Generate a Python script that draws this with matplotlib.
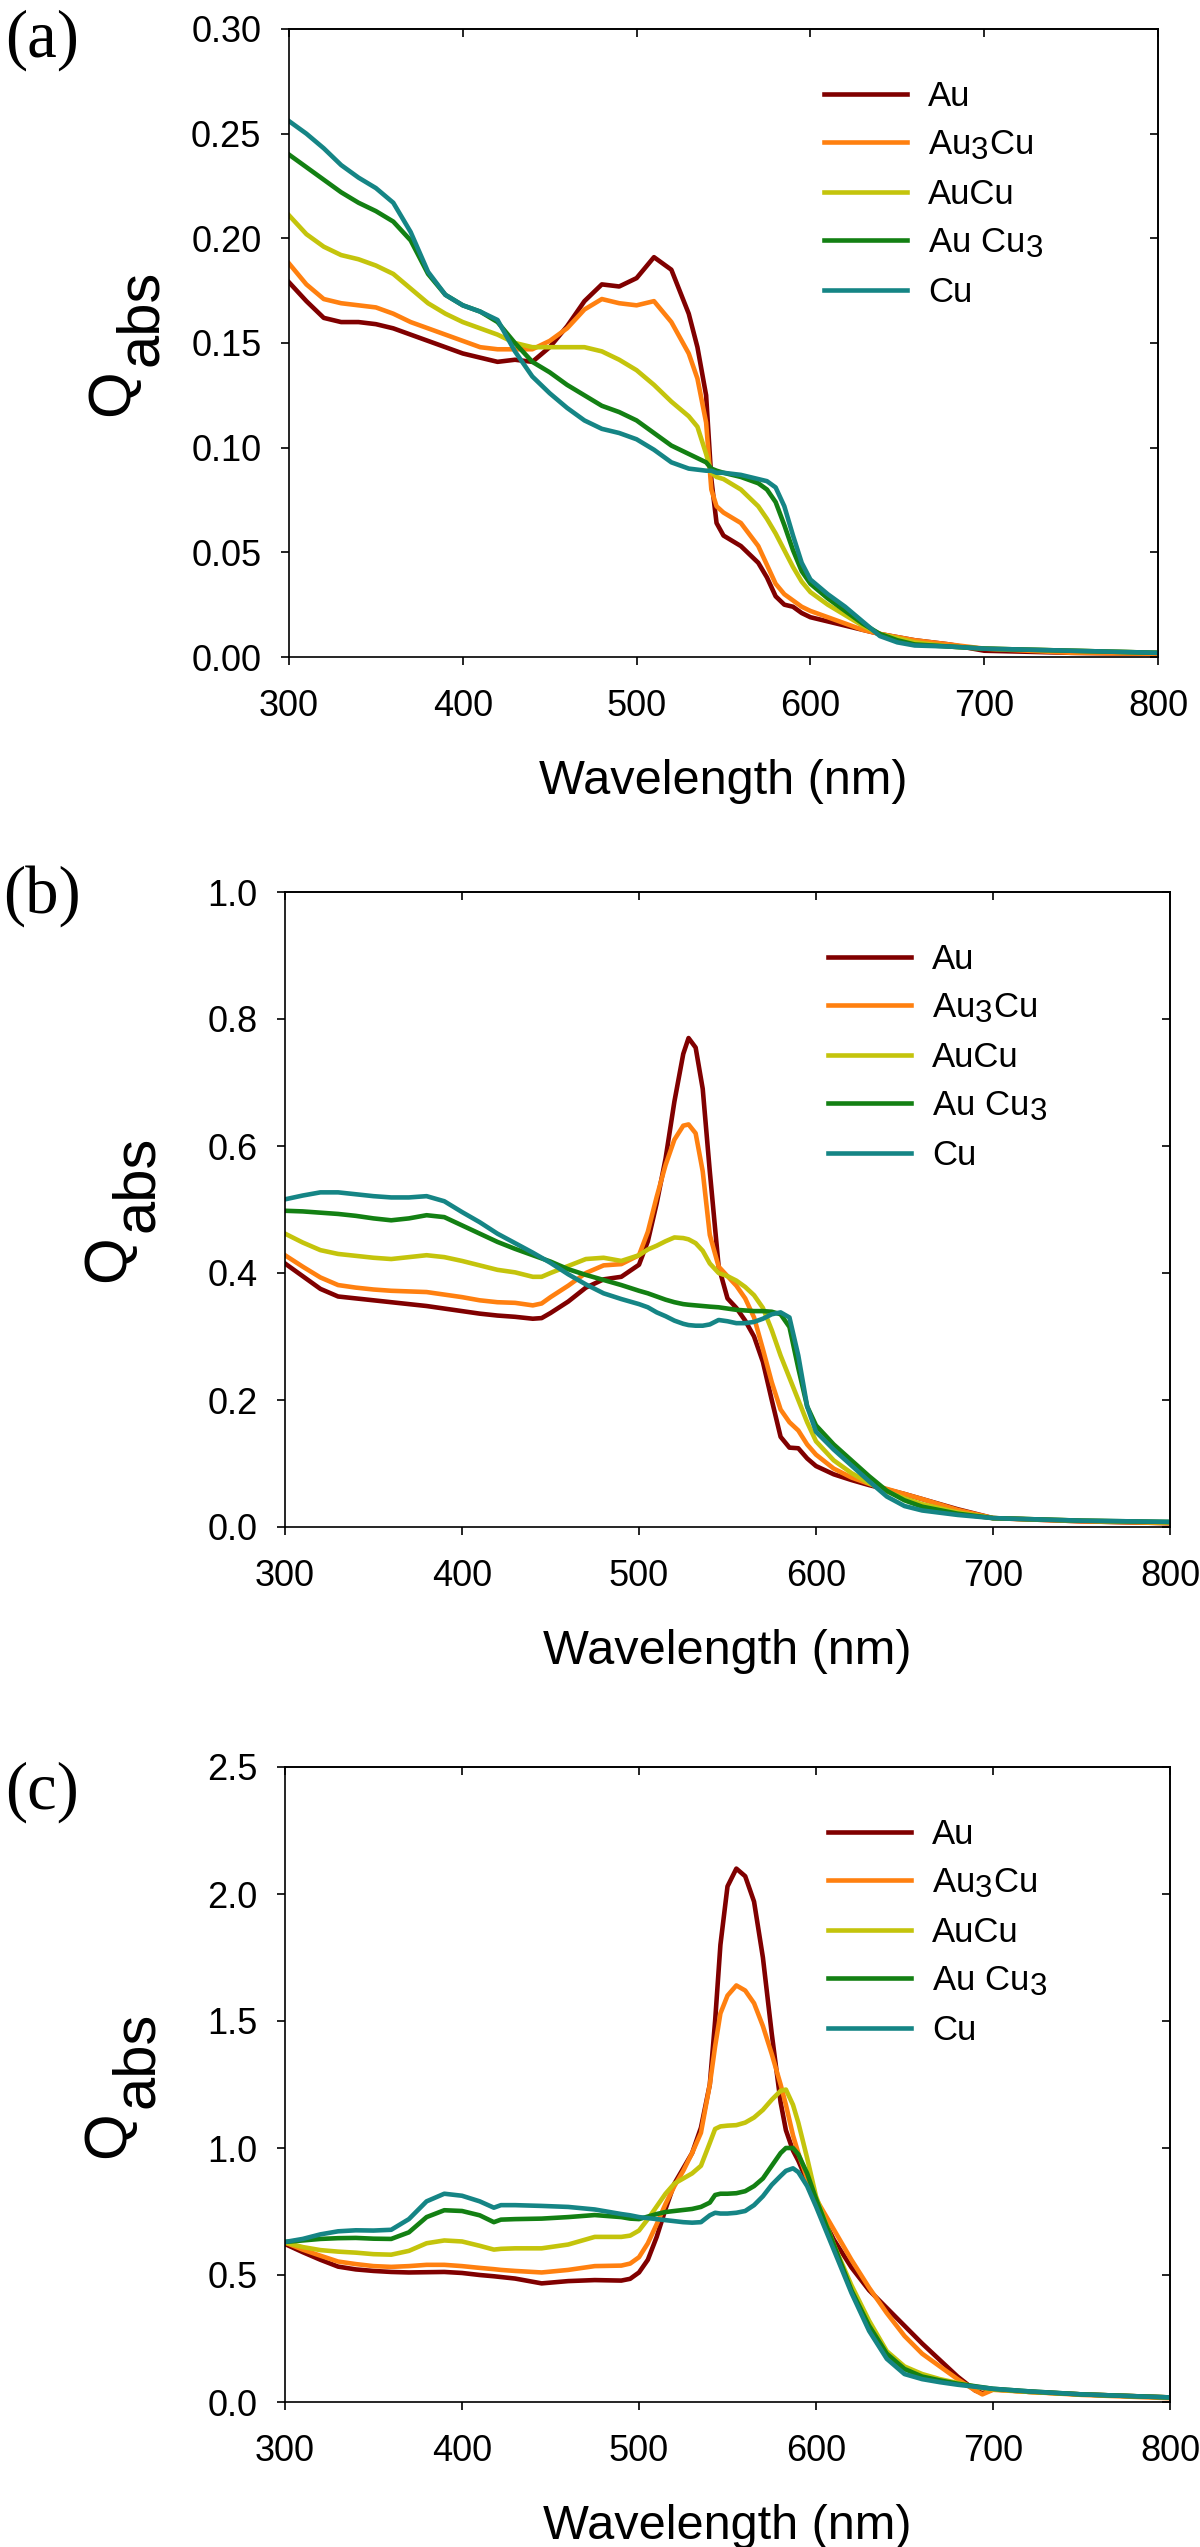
import matplotlib
matplotlib.use("Agg")
import matplotlib.pyplot as plt
import matplotlib._mathtext as _mt

_mt.SHRINK_FACTOR = 0.9

plt.rcParams['font.family'] = ['Liberation Sans', 'DejaVu Sans']
plt.rcParams['mathtext.fontset'] = 'custom'
plt.rcParams['mathtext.rm'] = 'Liberation Sans'
plt.rcParams['mathtext.it'] = 'Liberation Sans'
plt.rcParams['mathtext.default'] = 'regular'

# ---------------- data ----------------
series_names = ['Au', r'Au$_3$Cu', 'AuCu', r'Au Cu$_3$', 'Cu']
series_colors = ['#800000', '#FF8010', '#C4C40C', '#138013', '#158585']
panel_letters = ['(a)', '(b)', '(c)']

wl_a = [300, 310, 320, 330, 340, 350, 360, 370, 380, 390, 400, 410, 420, 430, 440, 450,
        460, 470, 480, 490, 500, 510, 520, 530, 535, 540, 543, 546, 550, 560, 570, 575,
        580, 585, 590, 595, 600, 610, 620, 630, 640, 650, 660, 680, 700, 750, 800]
au_a = [0.179, 0.170, 0.162, 0.160, 0.160, 0.159, 0.157, 0.154, 0.151, 0.148, 0.145, 0.143,
        0.141, 0.142, 0.141, 0.148, 0.158, 0.170, 0.178, 0.177, 0.181, 0.191, 0.185, 0.164,
        0.148, 0.125, 0.085, 0.064, 0.058, 0.053, 0.045, 0.038, 0.029, 0.025, 0.024, 0.021,
        0.019, 0.017, 0.015, 0.013, 0.011, 0.0095, 0.008, 0.006, 0.003, 0.002, 0.0015]
au3cu_a = [0.188, 0.178, 0.171, 0.169, 0.168, 0.167, 0.164, 0.160, 0.157, 0.154, 0.151, 0.148,
           0.147, 0.147, 0.147, 0.151, 0.157, 0.166, 0.171, 0.169, 0.168, 0.170, 0.160, 0.145,
           0.133, 0.112, 0.080, 0.072, 0.069, 0.064, 0.053, 0.044, 0.035, 0.030, 0.027, 0.024,
           0.022, 0.019, 0.016, 0.013, 0.011, 0.0095, 0.008, 0.006, 0.004, 0.002, 0.0015]
aucu_a = [0.211, 0.202, 0.196, 0.192, 0.190, 0.187, 0.183, 0.176, 0.169, 0.164, 0.160, 0.157,
          0.154, 0.150, 0.148, 0.148, 0.148, 0.148, 0.146, 0.142, 0.137, 0.130, 0.122, 0.115,
          0.110, 0.097, 0.088, 0.086, 0.085, 0.080, 0.072, 0.066, 0.059, 0.051, 0.043, 0.036,
          0.031, 0.025, 0.020, 0.015, 0.011, 0.009, 0.007, 0.005, 0.004, 0.003, 0.002]
aucu3_a = [0.240, 0.234, 0.228, 0.222, 0.217, 0.213, 0.208, 0.199, 0.183, 0.173, 0.168, 0.165,
           0.160, 0.150, 0.141, 0.136, 0.130, 0.125, 0.120, 0.117, 0.113, 0.107, 0.101, 0.097,
           0.095, 0.093, 0.090, 0.089, 0.088, 0.086, 0.083, 0.080, 0.074, 0.063, 0.051, 0.041,
           0.035, 0.028, 0.022, 0.016, 0.011, 0.008, 0.006, 0.005, 0.004, 0.003, 0.002]
cu_a = [0.256, 0.250, 0.243, 0.235, 0.229, 0.224, 0.217, 0.203, 0.184, 0.173, 0.168, 0.165,
        0.161, 0.146, 0.134, 0.126, 0.119, 0.113, 0.109, 0.107, 0.104, 0.099, 0.093, 0.090,
        0.0895, 0.089, 0.089, 0.088, 0.088, 0.087, 0.085, 0.084, 0.081, 0.072, 0.058, 0.045,
        0.037, 0.030, 0.024, 0.017, 0.010, 0.007, 0.0055, 0.005, 0.004, 0.003, 0.002]

wl_b = [300, 310, 320, 330, 340, 350, 360, 370, 380, 390, 400, 410, 420, 430, 440, 445, 450,
        460, 470, 480, 490, 500, 505, 510, 515, 520, 525, 528, 532, 536, 540, 545, 550, 555,
        560, 565, 570, 575, 580, 585, 590, 595, 600, 610, 620, 630, 640, 650, 660, 680, 700,
        750, 800]
au_b = [0.415, 0.395, 0.375, 0.363, 0.360, 0.357, 0.354, 0.351, 0.348, 0.344, 0.340, 0.336,
        0.333, 0.331, 0.328, 0.329, 0.337, 0.355, 0.377, 0.390, 0.394, 0.413, 0.450, 0.510,
        0.580, 0.670, 0.745, 0.770, 0.755, 0.690, 0.560, 0.410, 0.360, 0.345, 0.325, 0.300,
        0.260, 0.200, 0.142, 0.125, 0.124, 0.108, 0.096, 0.083, 0.074, 0.066, 0.059, 0.052,
        0.044, 0.028, 0.014, 0.009, 0.006]
au3cu_b = [0.428, 0.410, 0.393, 0.381, 0.377, 0.374, 0.372, 0.371, 0.370, 0.366, 0.362, 0.357,
           0.354, 0.353, 0.349, 0.352, 0.362, 0.380, 0.400, 0.412, 0.414, 0.428, 0.465, 0.520,
           0.570, 0.610, 0.632, 0.634, 0.620, 0.560, 0.460, 0.410, 0.395, 0.380, 0.360, 0.330,
           0.280, 0.228, 0.185, 0.165, 0.152, 0.130, 0.114, 0.092, 0.078, 0.068, 0.060, 0.052,
           0.044, 0.027, 0.014, 0.009, 0.006]
aucu_b = [0.462, 0.448, 0.436, 0.430, 0.427, 0.424, 0.422, 0.425, 0.428, 0.425, 0.419, 0.412,
          0.405, 0.401, 0.394, 0.394, 0.400, 0.411, 0.422, 0.424, 0.419, 0.428, 0.437, 0.443,
          0.450, 0.456, 0.455, 0.453, 0.447, 0.435, 0.415, 0.400, 0.395, 0.388, 0.378, 0.365,
          0.345, 0.310, 0.270, 0.235, 0.200, 0.165, 0.135, 0.105, 0.085, 0.069, 0.056, 0.045,
          0.036, 0.023, 0.014, 0.010, 0.007]
aucu3_b = [0.498, 0.497, 0.495, 0.493, 0.490, 0.486, 0.483, 0.486, 0.491, 0.488, 0.475, 0.462,
           0.449, 0.438, 0.428, 0.423, 0.418, 0.406, 0.397, 0.389, 0.381, 0.372, 0.368, 0.363,
           0.358, 0.354, 0.351, 0.350, 0.349, 0.348, 0.347, 0.346, 0.344, 0.342, 0.341, 0.340,
           0.340, 0.339, 0.335, 0.315, 0.250, 0.190, 0.160, 0.130, 0.105, 0.080, 0.057, 0.042,
           0.032, 0.021, 0.014, 0.010, 0.008]
cu_b = [0.516, 0.522, 0.527, 0.527, 0.524, 0.521, 0.519, 0.519, 0.521, 0.513, 0.496, 0.480,
        0.462, 0.447, 0.432, 0.424, 0.416, 0.398, 0.382, 0.368, 0.359, 0.351, 0.346, 0.338,
        0.332, 0.325, 0.320, 0.318, 0.317, 0.317, 0.319, 0.326, 0.324, 0.321, 0.321, 0.323,
        0.328, 0.335, 0.338, 0.330, 0.270, 0.190, 0.150, 0.122, 0.097, 0.072, 0.048, 0.033,
        0.026, 0.019, 0.014, 0.010, 0.008]

wl_c = [300, 310, 320, 330, 340, 350, 360, 370, 380, 390, 400, 410, 418, 422, 430, 445, 460,
        475, 490, 495, 500, 505, 510, 515, 520, 525, 530, 535, 540, 543, 546, 550, 555, 560,
        565, 570, 575, 580, 583, 587, 590, 595, 600, 610, 620, 630, 640, 650, 660, 670, 680,
        690, 694, 700, 720, 750, 800]
au_c = [0.622, 0.590, 0.560, 0.533, 0.522, 0.516, 0.512, 0.510, 0.511, 0.512, 0.508, 0.500,
        0.495, 0.492, 0.486, 0.467, 0.476, 0.480, 0.478, 0.485, 0.510, 0.560, 0.650, 0.760,
        0.860, 0.920, 0.980, 1.080, 1.250, 1.500, 1.800, 2.030, 2.100, 2.070, 1.970, 1.750,
        1.450, 1.180, 1.070, 0.990, 0.950, 0.870, 0.780, 0.640, 0.530, 0.440, 0.370, 0.300,
        0.230, 0.165, 0.100, 0.045, 0.035, 0.050, 0.040, 0.030, 0.018]
au3cu_c = [0.628, 0.600, 0.576, 0.553, 0.543, 0.535, 0.532, 0.535, 0.540, 0.540, 0.535, 0.528,
           0.523, 0.520, 0.516, 0.510, 0.520, 0.535, 0.537, 0.545, 0.570, 0.625, 0.700, 0.780,
           0.850, 0.910, 0.980, 1.060, 1.250, 1.400, 1.530, 1.600, 1.640, 1.620, 1.570, 1.480,
           1.370, 1.250, 1.170, 1.050, 0.980, 0.880, 0.800, 0.680, 0.560, 0.450, 0.350, 0.260,
           0.190, 0.140, 0.090, 0.045, 0.030, 0.048, 0.040, 0.028, 0.015]
aucu_c = [0.628, 0.610, 0.598, 0.592, 0.588, 0.582, 0.580, 0.595, 0.625, 0.636, 0.632, 0.615,
          0.600, 0.603, 0.605, 0.605, 0.620, 0.650, 0.650, 0.655, 0.675, 0.720, 0.770, 0.820,
          0.860, 0.880, 0.900, 0.930, 1.020, 1.075, 1.085, 1.088, 1.090, 1.100, 1.120, 1.150,
          1.190, 1.225, 1.230, 1.170, 1.100, 0.960, 0.810, 0.620, 0.460, 0.320, 0.200, 0.140,
          0.110, 0.090, 0.075, 0.060, 0.055, 0.050, 0.040, 0.030, 0.018]
aucu3_c = [0.630, 0.636, 0.642, 0.645, 0.646, 0.643, 0.642, 0.668, 0.728, 0.755, 0.752, 0.735,
           0.708, 0.718, 0.720, 0.722, 0.728, 0.736, 0.728, 0.722, 0.720, 0.730, 0.740, 0.748,
           0.752, 0.756, 0.760, 0.768, 0.785, 0.815, 0.820, 0.820, 0.822, 0.830, 0.850, 0.880,
           0.930, 0.980, 1.000, 1.000, 0.975, 0.900, 0.800, 0.620, 0.440, 0.300, 0.190, 0.130,
           0.100, 0.085, 0.072, 0.062, 0.058, 0.052, 0.042, 0.030, 0.018]
cu_c = [0.630, 0.642, 0.660, 0.672, 0.676, 0.675, 0.678, 0.720, 0.790, 0.820, 0.812, 0.790,
        0.765, 0.775, 0.775, 0.772, 0.768, 0.758, 0.740, 0.735, 0.728, 0.724, 0.720, 0.716,
        0.712, 0.708, 0.706, 0.708, 0.735, 0.745, 0.742, 0.742, 0.745, 0.752, 0.775, 0.810,
        0.855, 0.890, 0.910, 0.920, 0.905, 0.850, 0.770, 0.600, 0.430, 0.280, 0.170, 0.110,
        0.090, 0.078, 0.068, 0.060, 0.057, 0.052, 0.042, 0.030, 0.018]

panel_wl = [wl_a, wl_b, wl_c]
panel_series = [[au_a, au3cu_a, aucu_a, aucu3_a, cu_a],
                [au_b, au3cu_b, aucu_b, aucu3_b, cu_b],
                [au_c, au3cu_c, aucu_c, aucu3_c, cu_c]]
y_limits = [(0.0, 0.30), (0.0, 1.0), (0.0, 2.5)]
y_ticks = [[0.00, 0.05, 0.10, 0.15, 0.20, 0.25, 0.30],
           [0.0, 0.2, 0.4, 0.6, 0.8, 1.0],
           [0.0, 0.5, 1.0, 1.5, 2.0, 2.5]]
y_fmt = ['{:.2f}', '{:.1f}', '{:.1f}']
x_ticks = [300, 400, 500, 600, 700, 800]
x_label = 'Wavelength (nm)'

# ---------------- layout (pixels) ----------------
W, H = 1200, 2547
fig = plt.figure(figsize=(W / 100, H / 100), dpi=100)

rects = [(289, 29, 1158, 657), (285, 892, 1170, 1527), (285, 1767, 1170, 2402)]
letter_pos = [(42, 40), (42, 896), (42, 1792)]
legend_left = [824, 828, 828]


def fx(x):
    return x / W


def fy(y):
    return 1 - y / H


TICK_LEN = 5.8
LW_SPINE = 1.2

for i in range(3):
    l, t, r, b = rects[i]
    ax = fig.add_axes([fx(l), fy(b), (r - l) / W, (b - t) / H])
    for name, col, vals in zip(series_names, series_colors, panel_series[i]):
        ax.plot(panel_wl[i], vals, color=col, lw=3.3, label=name,
                solid_joinstyle='round')
    ax.set_xlim(300, 800)
    ax.set_ylim(*y_limits[i])
    ax.set_xticks(x_ticks)
    ax.set_xticklabels([str(v) for v in x_ticks])
    ax.set_yticks(y_ticks[i])
    ax.set_yticklabels([y_fmt[i].format(v) for v in y_ticks[i]])
    for s in ax.spines.values():
        s.set_linewidth(LW_SPINE)
    ax.tick_params(axis='both', direction='out', length=TICK_LEN, width=LW_SPINE,
                   labelsize=26, colors='black')
    ax.tick_params(axis='y', pad=14)
    ax.tick_params(axis='x', pad=17)
    # inward ticks on top and right
    secx = ax.secondary_xaxis('top')
    secx.set_xticks(x_ticks)
    secx.tick_params(axis='x', direction='in', length=TICK_LEN, width=LW_SPINE,
                     labeltop=False, labelbottom=False)
    secx.spines['top'].set_linewidth(LW_SPINE)
    secy = ax.secondary_yaxis('right')
    secy.set_yticks(y_ticks[i])
    secy.tick_params(axis='y', direction='in', length=TICK_LEN, width=LW_SPINE,
                     labelright=False, labelleft=False)
    secy.spines['right'].set_linewidth(LW_SPINE)

    # legend
    leg_x = (legend_left[i] - l) / (r - l)
    leg_top = t + 51
    leg_y = (b - leg_top) / (b - t)
    ax.legend(loc='upper left', bbox_to_anchor=(leg_x, leg_y), frameon=False,
              fontsize=25, handlelength=2.4, handletextpad=0.6, labelspacing=0.45,
              borderpad=0, borderaxespad=0)

    # x label
    fig.text(fx((l + r) / 2), fy(b + 137), x_label, fontsize=35,
             ha='center', va='baseline')
    # y label Q_abs
    yc = (t + b) / 2
    fig.text(fx(l - 161), fy(yc + 73), 'Q', fontsize=43, rotation=90,
             rotation_mode='anchor', ha='left', va='baseline')
    fig.text(fx(l - 132), fy(yc + 23), 'abs', fontsize=43, rotation=90,
             rotation_mode='anchor', ha='left', va='baseline')
    # panel letter
    fig.text(fx(letter_pos[i][0]), fy(letter_pos[i][1]), panel_letters[i],
             fontsize=48, family=['Liberation Serif', 'DejaVu Serif'],
             ha='center', va='center')

fig.savefig('out.png', dpi=100)
